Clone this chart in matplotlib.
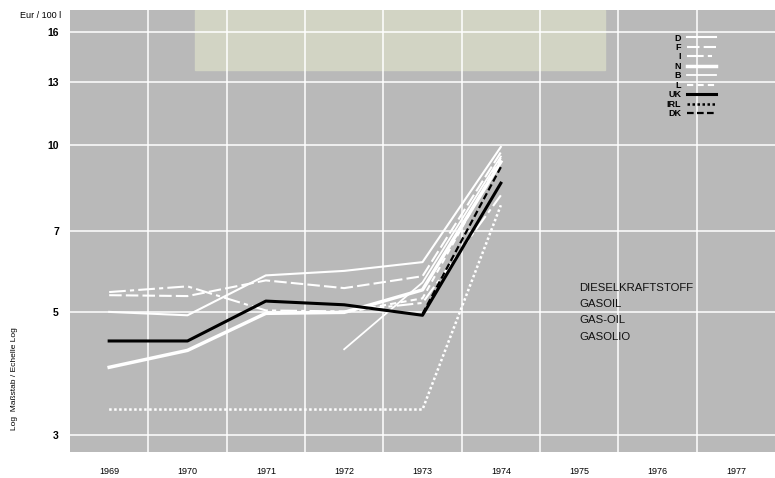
import numpy as np
import matplotlib
matplotlib.use("Agg")
import matplotlib.pyplot as plt
from matplotlib.lines import Line2D

plt.rcParams['font.family'] = ['Liberation Sans', 'DejaVu Sans']

# Diesel price, Eur / 100 l (log scale)
years = [1969, 1970, 1971, 1972, 1973, 1974]
nan = np.nan
D = [5.01, 4.94, 5.83, 5.94, 6.16, 9.94]
F = [5.37, 5.35, 5.71, 5.53, 5.81, 9.72]
I = [5.44, 5.57, 5.04, 5.02, 5.20, 8.13]
NL = [3.98, 4.27, 4.98, 5.00, 5.49, 9.34]
B = [nan, nan, nan, 4.29, 5.66, 9.55]
L = [nan, nan, 5.00, 5.00, 5.30, 9.50]
UK = [4.44, 4.44, 5.24, 5.16, 4.94, 8.55]
IRL = [3.34, 3.34, 3.34, 3.34, 3.34, 7.80]
DK = [nan, nan, nan, nan, 4.97, 9.14]

x_years = list(range(1969, 1978))
y_ticks = [3, 5, 7, 10, 13, 16]
product_text = ["DIESELKRAFTSTOFF", "GASOIL", "GAS-OIL", "GASOLIO"]

fig = plt.figure(figsize=(7.75, 4.78), dpi=100)
ax = fig.add_axes([70 / 775, 26 / 478, 705 / 775, 442 / 478])
ax.set_facecolor('#b9b9b9')
ax.set_yscale('log')
ax.set_ylim(2.80, 17.55)
ax.set_xlim(1968.5, 1977.5)

# faded yellowish band at the top (scan tint)
ax.axhspan(13.7, 17.55, xmin=0.177, xmax=0.759, color='#d2d4c4', zorder=0)

# grid: white lines between years, at the y ticks
for xv in np.arange(1969.5, 1977.5, 1.0):
    ax.axvline(xv, color='white', lw=1.3, alpha=0.85, zorder=1)
for yv in y_ticks:
    ax.axhline(yv, color='white', lw=1.3, alpha=0.85, zorder=1)

for s in ax.spines.values():
    s.set_visible(False)

ax.set_yticks(y_ticks)
ax.set_yticklabels([str(v) for v in y_ticks], fontsize=7.5, fontweight='bold')
ax.yaxis.set_minor_locator(matplotlib.ticker.NullLocator())
ax.set_xticks(x_years)
ax.set_xticklabels([str(v) for v in x_years], fontsize=6.5)
ax.tick_params(axis='both', length=0)
ax.tick_params(axis='y', pad=8)
ax.tick_params(axis='x', pad=11)

w = 'white'
ax.plot(years, D, color=w, lw=1.5, zorder=3, label='D')
ax.plot(years, F, color=w, lw=1.5, ls=(0, (6, 2)), zorder=3, label='F')
ax.plot(years, I, color=w, lw=1.5, ls=(0, (8, 2, 2, 2)), zorder=3, label='I')
ax.plot(years, NL, color=w, lw=2.5, zorder=3, label='N')
ax.plot(years, B, color=w, lw=1.3, zorder=3, label='B')
ax.plot(years, L, color=w, lw=1.5, ls=(0, (3, 2)), zorder=3, label='L')
ax.plot(years, UK, color='black', lw=2.2, zorder=5, label='UK')
ax.plot(years, IRL, color=w, lw=1.8, ls=(0, (1, 1)), zorder=4, label='IRL')
ax.plot(years, DK, color='black', lw=1.6, ls=(0, (3, 1.5)), zorder=4, label='DK')

handles, labels = ax.get_legend_handles_labels()
# the IRL sample in the legend is drawn in black dots
handles[7] = Line2D([], [], color='black', lw=1.8, ls=(0, (1, 1)))
leg = ax.legend(handles, labels, loc='upper left', bbox_to_anchor=(0.835, 0.965),
                frameon=False, markerfirst=False, handlelength=3.2,
                handletextpad=0.6, labelspacing=0.05,
                prop={'weight': 'bold', 'size': 6.5})

for i, line in enumerate(product_text):
    ax.text(0.722, 0.372 - i * 0.037, line, transform=ax.transAxes,
            fontsize=8.2, fontweight='medium', color='#111111',
            va='center', ha='left')

fig.text(20 / 775, 1 - 16 / 478, 'Eur / 100 l', fontsize=6.5, va='center', ha='left')
fig.text(15 / 775, 1 - 379 / 478, 'Log  Maßstab / Echelle Log', fontsize=6,
         rotation=90, va='center', ha='center')

fig.savefig('out.png', dpi=100, facecolor='white')
